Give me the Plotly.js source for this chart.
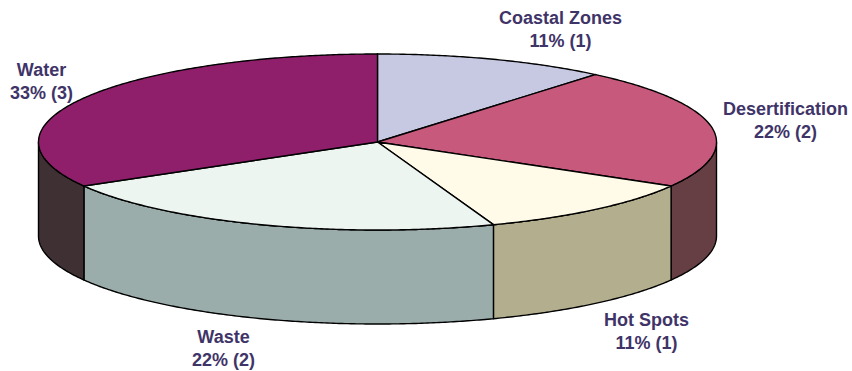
<!DOCTYPE html>
<html>
<head>
<meta charset="utf-8">
<script src="https://cdn.plot.ly/plotly-3.0.1.min.js"></script>
<style>html,body{margin:0;padding:0;background:#fff}#chart{width:852px;height:371px}</style>
</head>
<body>
<div id="chart"></div>
<script>
// Slices run clockwise from twelve o'clock.
const categories = ['Coastal Zones', 'Desertification', 'Hot Spots', 'Waste', 'Water'];
const counts = [1, 2, 1, 2, 3];
const topColors = ['#C7C9E3', '#C7597C', '#FFFBE8', '#EDF5F1', '#8F1F6B'];
const sideColors = ['#8A8BA0', '#663F45', '#B3AE8D', '#9AADAB', '#3F3033'];
const labelX = [560.5, 785, 646.5, 223, 41];
const labelY = [29.5, 120.5, 331.5, 348, 81];

// Projection of the tilted disc, in plot units.
const CX = 377.5, CY = 142, RX = 339, RY = 88, DEPTH = 94;
const total = counts.reduce((a, b) => a + b, 0);

const rimPoint = (deg, drop) => {
  const a = deg * Math.PI / 180;
  return [CX + RX * Math.sin(a), CY - RY * Math.cos(a) + drop];
};
const arc = (from, to, drop) => {
  const n = Math.max(2, Math.ceil(Math.abs(to - from) * 2));
  const pts = [];
  for (let i = 0; i <= n; i++) pts.push(rimPoint(from + (to - from) * i / n, drop));
  return pts;
};
const polygon = (pts, fill, name, text) => ({
  type: 'scatter', mode: 'lines', fill: 'toself', fillcolor: fill,
  x: pts.map(p => p[0]), y: pts.map(p => p[1]),
  line: {color: '#000', width: 1.4, simplify: false},
  name, text, hoverinfo: 'text', hoveron: 'fills', showlegend: false
});

const sides = [], tops = [], annotations = [];
let start = 0;
categories.forEach((cat, i) => {
  const end = start + counts[i] / total * 360;
  const pct = Math.round(counts[i] / total * 100);
  const text = `${pct}% (${counts[i]})`;
  // Only the front half of the wall (90 to 270 degrees) faces the viewer.
  const from = Math.max(start, 90), to = Math.min(end, 270);
  if (to > from) {
    sides.push(polygon([...arc(from, to, 0), ...arc(to, from, DEPTH), rimPoint(from, 0)],
      sideColors[i], cat, cat + ': ' + text));
  }
  tops.push(polygon([[CX, CY], ...arc(start, end, 0), [CX, CY]], topColors[i], cat, cat + ': ' + text));
  annotations.push({
    x: labelX[i], y: labelY[i], xref: 'x', yref: 'y', showarrow: false,
    align: 'center', text: `<b>${cat}</b><br><b>${text}</b>`
  });
  start = end;
});

const hiddenAxis = {visible: false, fixedrange: true};
Plotly.newPlot('chart', [...sides, ...tops], {
  width: 852, height: 371,
  margin: {l: 0, r: 0, t: 0, b: 0},
  paper_bgcolor: '#fff', plot_bgcolor: '#fff',
  xaxis: {...hiddenAxis, range: [0, 852]},
  yaxis: {...hiddenAxis, range: [371, 0]},
  font: {family: 'Liberation Sans, Arial, sans-serif', size: 18, color: '#3F3468'},
  annotations,
  showlegend: false
}, {displayModeBar: false});
</script>
</body>
</html>
